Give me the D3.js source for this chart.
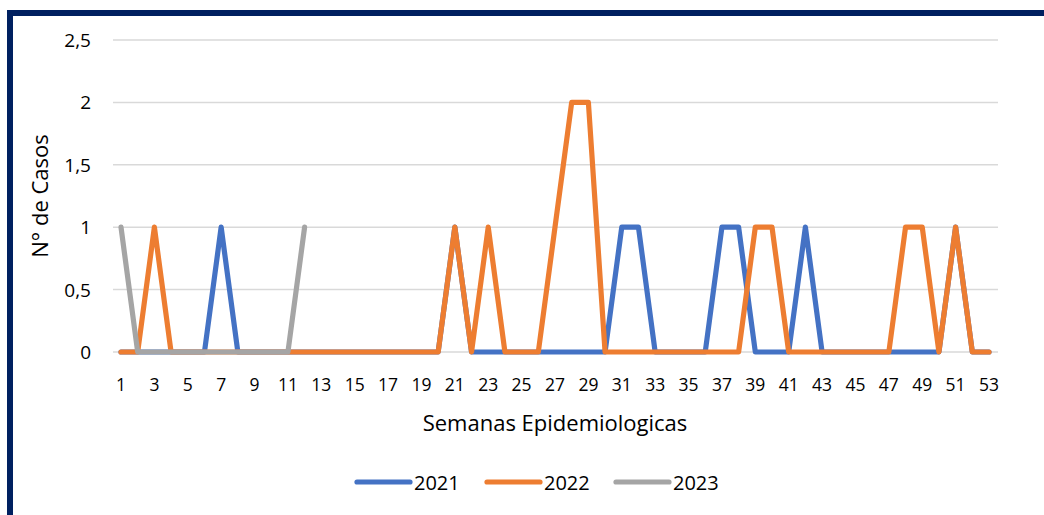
<!DOCTYPE html>
<html>
<head>
<meta charset="utf-8">
<script src="https://cdn.jsdelivr.net/npm/d3@7"></script>
<style>
  html, body { margin: 0; padding: 0; background: #fff; }
  svg { display: block; }
</style>
</head>
<body>
<div id="chart"></div>
<script>
"use strict";

// Semanas epidemiologicas 1..53
const weeks = d3.range(1, 54);
const yTicks = [0, 0.5, 1, 1.5, 2, 2.5];
const xTickLabels = d3.range(1, 54, 2);
const seriesNames = ["2021", "2022", "2023"];
const seriesColors = ["#4472C4", "#ED7D31", "#A5A5A5"];

//                1 2 3 4 5 6 7 8 9 10
const cases2021 = [0,0,0,0,0,0,1,0,0,0,
                   0,0,0,0,0,0,0,0,0,0,
                   1,0,0,0,0,0,0,0,0,0,
                   1,1,0,0,0,0,1,1,0,0,
                   0,1,0,0,0,0,0,0,0,0,
                   1,0,0];
const cases2022 = [0,0,1,0,0,0,0,0,0,0,
                   0,0,0,0,0,0,0,0,0,0,
                   1,0,1,0,0,0,1,2,2,0,
                   0,0,0,0,0,0,0,0,1,1,
                   0,0,0,0,0,0,0,1,1,0,
                   1,0,0];
const cases2023 = [1,0,0,0,0,0,0,0,0,0,0,1];

const allSeries = [cases2021, cases2022, cases2023];

const W = 1044, H = 515;
const svg = d3.select("#chart").append("svg")
  .attr("width", W).attr("height", H);

// outer frame (dark navy, left + top)
svg.append("rect")
  .attr("x", 10).attr("y", 13)
  .attr("width", W + 20).attr("height", H + 20)
  .attr("fill", "none")
  .attr("stroke", "#002060")
  .attr("stroke-width", 6);

const x = d3.scaleLinear().domain([1, 53]).range([121, 989]);
const y = d3.scaleLinear().domain([0, 2.5]).range([352, 40]);

const FONT = "'Open Sans', 'Liberation Sans', sans-serif";

// gridlines
svg.append("g").selectAll("line")
  .data(yTicks)
  .join("line")
  .attr("x1", 113).attr("x2", 998)
  .attr("y1", (d) => y(d)).attr("y2", (d) => y(d))
  .attr("stroke", "#d9d9d9")
  .attr("stroke-width", 1.5);

// y tick labels
svg.append("g").selectAll("text")
  .data(yTicks)
  .join("text")
  .attr("x", 91)
  .attr("y", (d) => y(d) + 7)
  .attr("text-anchor", "end")
  .attr("font-family", FONT)
  .attr("font-size", 19)
  .attr("fill", "#000")
  .text((d) => d.toString().replace(".", ","));

// x tick labels
svg.append("g").selectAll("text")
  .data(xTickLabels)
  .join("text")
  .attr("x", (d) => x(d))
  .attr("y", 391)
  .attr("text-anchor", "middle")
  .attr("font-family", FONT)
  .attr("font-size", 17.5)
  .attr("fill", "#000")
  .text((d) => d);

// axis titles
svg.append("text")
  .attr("x", 555).attr("y", 431)
  .attr("text-anchor", "middle")
  .attr("font-family", FONT)
  .attr("font-size", 22)
  .attr("fill", "#000")
  .text("Semanas Epidemiologicas");

svg.append("text")
  .attr("transform", `translate(48,${(y(0) + y(2.5)) / 2}) rotate(-90)`)
  .attr("text-anchor", "middle")
  .attr("font-family", FONT)
  .attr("font-size", 22)
  .attr("fill", "#000")
  .text("N° de Casos");

// series lines
const line = d3.line()
  .x((d, i) => x(weeks[i]))
  .y((d) => y(d));

allSeries.forEach((vals, si) => {
  svg.append("path")
    .datum(vals)
    .attr("d", line)
    .attr("fill", "none")
    .attr("stroke", seriesColors[si])
    .attr("stroke-width", 5.2)
    .attr("stroke-linejoin", "round")
    .attr("stroke-linecap", "round");
});

// legend
const legendX = [357, 487, 616];
seriesNames.forEach((name, i) => {
  const lg = svg.append("g").attr("transform", `translate(${legendX[i]},482)`);
  lg.append("line")
    .attr("x1", 0).attr("x2", 53)
    .attr("y1", 0).attr("y2", 0)
    .attr("stroke", seriesColors[i])
    .attr("stroke-width", 5.2)
    .attr("stroke-linecap", "round");
  lg.append("text")
    .attr("x", 57).attr("y", 7.5)
    .attr("font-family", FONT)
    .attr("font-size", 20)
    .attr("fill", "#000")
    .text(name);
});
</script>
</body>
</html>
